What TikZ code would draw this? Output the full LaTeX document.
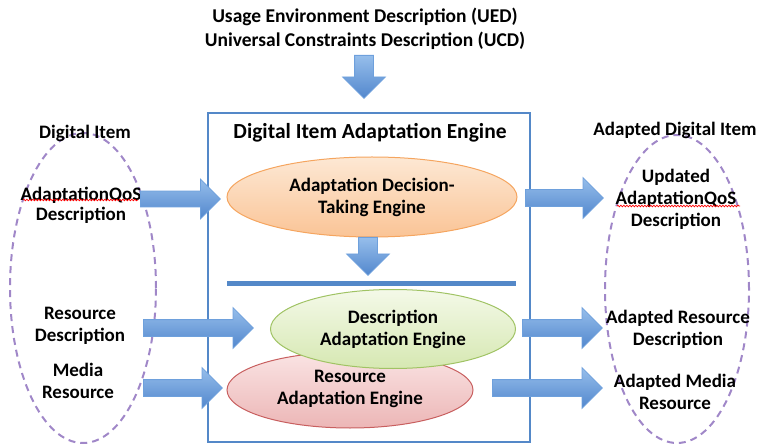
\documentclass[tikz,border=0pt]{standalone}
\usepackage{fontspec}
\setmainfont{Carlito}
\usetikzlibrary{shapes.geometric,shapes.arrows,decorations.pathmorphing}

\definecolor{boxblue}{RGB}{84,136,200}
\definecolor{arrowtop}{RGB}{150,190,235}
\definecolor{arrowbot}{RGB}{82,135,205}
\definecolor{arrowline}{RGB}{110,160,220}
\definecolor{itempurple}{RGB}{160,135,200}
\definecolor{orangetop}{RGB}{253,232,212}
\definecolor{orangebot}{RGB}{250,196,150}
\definecolor{orangeline}{RGB}{245,165,95}
\definecolor{greentop}{RGB}{244,249,232}
\definecolor{greenbot}{RGB}{214,232,178}
\definecolor{greenline}{RGB}{160,195,100}
\definecolor{redtop}{RGB}{250,228,228}
\definecolor{redbot}{RGB}{236,182,182}
\definecolor{redline}{RGB}{200,95,95}

\tikzset{
  txt/.style={font=\bfseries\fontsize{19}{22}\selectfont, align=center, inner sep=0pt},
  fatarrow/.style={single arrow, draw=arrowline, line width=0.8pt,
    top color=arrowtop, bottom color=arrowbot, single arrow tip angle=90,
    inner sep=#1, minimum width=0pt, single arrow head extend=12pt, anchor=tail},
  fatarrow/.default=8pt,
  engine/.style={ellipse, line width=1pt, txt},
  itemset/.style={ellipse, draw=itempurple, dash pattern=on 7pt off 5pt, line width=2pt},
  spell/.style={red, line width=0.7pt, decorate, decoration={snake, segment length=3pt, amplitude=0.8pt}}
}

\begin{document}
\begin{tikzpicture}[x=1pt,y=-1pt]
    \useasboundingbox (0,0) rectangle (760,446);

    % Constraints on top
    \node[txt, font=\bfseries\fontsize{19.5}{24}\selectfont] (ucd) at (365,29) {Usage Environment Description (UED)\\Universal Constraints Description (UCD)};
    \node[fatarrow=9pt, shape border rotate=270, minimum height=43pt] (atop) at (364,55) {};

    % Engine box
    \node[draw=boxblue, line width=1.5pt, minimum width=322pt, minimum height=329pt] (dia) at (369,277.5) {};
    \node[txt, font=\bfseries\fontsize{21.5}{24}\selectfont] (diatitle) at (370,133) {Digital Item Adaptation Engine};

    \node[engine, draw=orangeline, top color=orangetop, bottom color=orangebot,
          minimum width=290pt, minimum height=80pt] (adte) at (372,197) {Adaptation Decision-\\Taking Engine};
    \node[fatarrow=9pt, shape border rotate=270, minimum height=38pt] (amid) at (368,237) {};
    \draw[boxblue, line width=5pt] (227,284) -- (516,284);

    \node[engine, draw=redline, top color=redtop, bottom color=redbot,
          minimum width=246pt, minimum height=76pt] (rae) at (350,390) {};
    \node[txt] at (350,389) {Resource\\Adaptation Engine};
    \node[engine, draw=greenline, top color=greentop, bottom color=greenbot,
          minimum width=245pt, minimum height=79pt] (dae) at (393,329) {Description\\Adaptation Engine};

    % Input digital item
    \node[itemset, minimum width=146pt, minimum height=310pt] (diin) at (83,288) {};
    \node[txt] (diinlbl) at (85,133) {Digital Item};
    \node[txt, font=\bfseries\fontsize{19}{20}\selectfont] (qosin) at (81,205) {AdaptationQoS\\Description};
    \node[txt] (rdin) at (80,326) {Resource\\Description};
    \node[txt] (mrin) at (78,381) {Media\\Resource};
    \draw[spell] (23,200) -- (138,200);

    \node[fatarrow=7.5pt, minimum height=80pt] (ain1) at (140,199) {};
    \node[fatarrow, minimum height=110pt] (ain2) at (143,328) {};
    \node[fatarrow, minimum height=79pt] (ain3) at (143,388) {};

    % Adapted digital item
    \node[itemset, minimum width=144pt, minimum height=308pt] (diout) at (677,289) {};
    \node[txt] (dioutlbl) at (675,130) {Adapted Digital Item};
    \node[txt] (qosout) at (676,199) {Updated\\AdaptationQoS\\Description};
    \node[txt] (rdout) at (678,329) {Adapted Resource\\Description};
    \node[txt] (mrout) at (675,392) {Adapted Media\\Resource};
    \draw[spell] (617,206) -- (740,206);

    \node[fatarrow, minimum height=78pt] (aout1) at (525,198) {};
    \node[fatarrow, minimum height=80pt] (aout2) at (522,328) {};
    \node[fatarrow, minimum height=110pt] (aout3) at (492,388) {};

\end{tikzpicture}
\end{document}
